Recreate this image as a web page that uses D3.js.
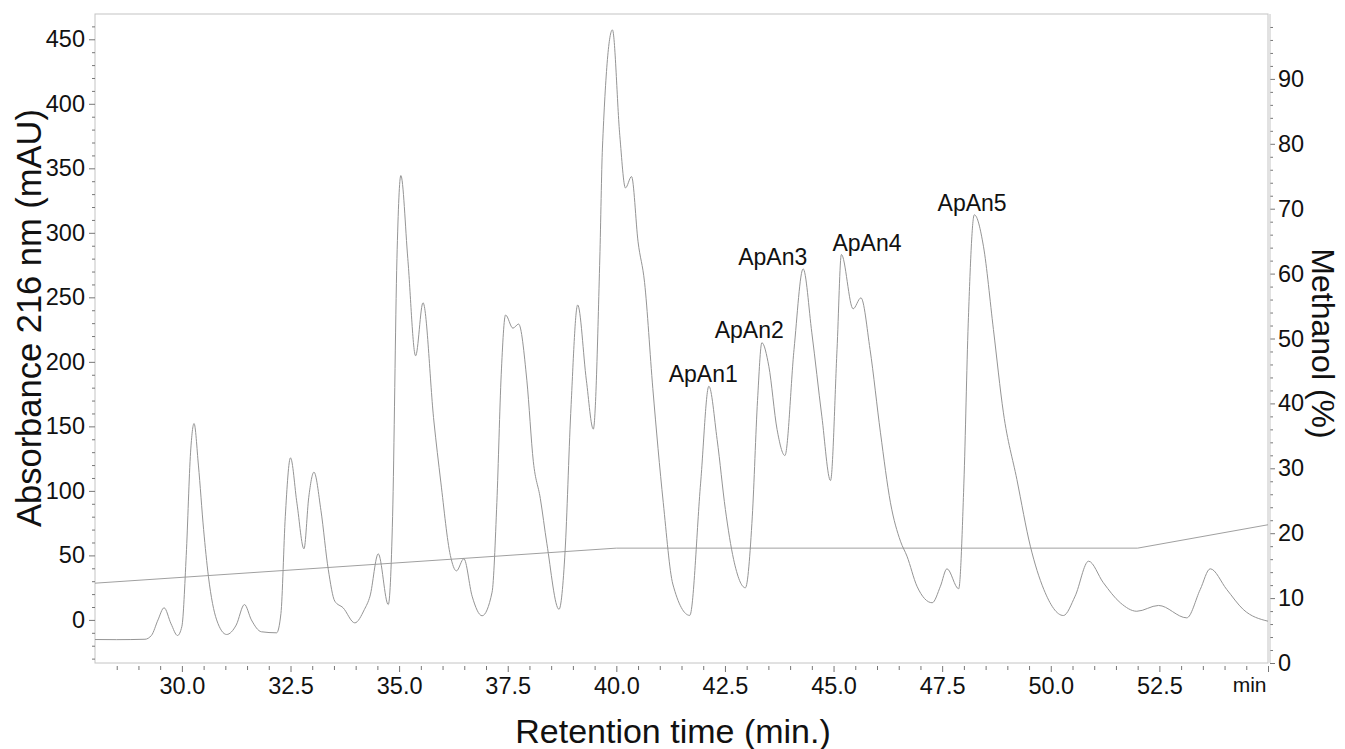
<!DOCTYPE html>
<html>
<head>
<meta charset="utf-8">
<script src="https://cdn.jsdelivr.net/npm/d3@7"></script>
<style>
  body { margin: 0; background: #fff; }
  svg text { font-family: "Liberation Sans", Arial, sans-serif; fill: #111; }
</style>
</head>
<body>
<div id="chart"></div>
<script>
// chromatogram trace (retention time in min, absorbance in mAU)
const times = [28.0, 28.5, 29.15, 29.3, 29.45, 29.59, 29.75, 29.9, 30.0, 30.1, 30.2, 30.28, 30.38, 30.5, 30.61, 30.8, 31.03, 31.25, 31.44, 31.6, 31.83, 32.18, 32.28, 32.38, 32.5, 32.65, 32.81, 32.92, 33.04, 33.2, 33.37, 33.52, 33.71, 33.98, 34.2, 34.33, 34.52, 34.75, 34.85, 34.95, 35.04, 35.2, 35.38, 35.55, 35.8, 35.96, 36.18, 36.32, 36.49, 36.68, 36.91, 37.14, 37.25, 37.35, 37.45, 37.62, 37.75, 37.94, 38.09, 38.25, 38.4, 38.68, 38.82, 38.95, 39.11, 39.31, 39.47, 39.62, 39.68, 39.91, 40.08, 40.21, 40.35, 40.5, 40.65, 40.84, 41.08, 41.3, 41.69, 41.94, 42.13, 42.32, 42.51, 42.7, 42.97, 43.13, 43.25, 43.35, 43.51, 43.7, 43.88, 44.09, 44.3, 44.5, 44.73, 44.93, 45.08, 45.18, 45.45, 45.63, 45.84, 46.08, 46.31, 46.54, 46.69, 46.92, 47.27, 47.46, 47.61, 47.88, 48.0, 48.1, 48.24, 48.45, 48.68, 48.91, 49.22, 49.53, 49.84, 50.29, 50.56, 50.87, 51.21, 51.6, 51.98, 52.48, 53.13, 53.44, 53.67, 54.05, 54.43, 55.0];
const absorbance = [-15.2, -15.3, -15.0, -12, 0, 9.4, -3, -12.1, -5, 50, 130, 152.2, 120, 70, 33.9, 0, -11.3, -4, 11.9, 0, -9.2, -10, 5, 80, 125.6, 90, 55.1, 95, 114.5, 85, 39, 14.5, 9.4, -2.3, 8, 18.4, 51.2, 11.9, 80, 280, 344.4, 280, 204.7, 245.8, 154.2, 106.8, 49.9, 38, 47.4, 18.4, 3.2, 21.5, 91, 190, 236.3, 226.1, 229.3, 185.8, 122.6, 94.2, 59.4, 8.2, 53, 160, 244.1, 185.8, 147.9, 280.5, 365.7, 457.3, 375.3, 334.8, 343.6, 293.1, 261.5, 179.4, 91, 27.8, 3.5, 106, 181.1, 139.8, 85.6, 46.8, 24.9, 80.4, 170, 214.8, 196.6, 147.6, 127.4, 209.6, 272.1, 222.5, 157.9, 108, 209.6, 283.2, 241.1, 249.6, 209.6, 145, 90.8, 61, 49.4, 26.1, 13.3, 26.1, 39.6, 24.1, 106, 230, 314, 289.6, 225.1, 160.5, 108.8, 57.1, 23.6, 3.4, 18.4, 45.5, 28.8, 13.3, 6.7, 11.2, 1.6, 23.6, 39.6, 23.6, 8.1, -1];

// methanol gradient (min, %)
const gradientTimes = [28, 40, 52, 55];
const methanolPct = [12.3, 17.7, 17.7, 21.3];

// peak annotations
const peakNames = ["ApAn1", "ApAn2", "ApAn3", "ApAn4", "ApAn5"];
const labelTimes = [42.0, 43.06, 43.6, 45.77, 48.19];
const labelValues = [181, 215, 272, 283, 314];

// tick labels
const xTicks = [30, 32.5, 35, 37.5, 40, 42.5, 45, 47.5, 50, 52.5];
const yLeftTicks = [0, 50, 100, 150, 200, 250, 300, 350, 400, 450];
const yRightTicks = [0, 10, 20, 30, 40, 50, 60, 70, 80, 90];

const width = 1345, height = 749;
const plot = { left: 95, right: 1268, top: 14, bottom: 663 };

const svg = d3.select("#chart").append("svg")
    .attr("width", width)
    .attr("height", height);

const x = d3.scaleLinear().domain([28, 55]).range([plot.left, plot.right]);
const yAbs = d3.scaleLinear().domain([-33.4, 469.6]).range([plot.bottom, plot.top]);
const yMeoh = d3.scaleLinear().domain([0, 100]).range([plot.bottom, plot.top]);

// frame
svg.append("rect")
    .attr("x", plot.left).attr("y", plot.top)
    .attr("width", plot.right - plot.left)
    .attr("height", plot.bottom - plot.top)
    .attr("fill", "none")
    .attr("stroke", "#c4c4c4")
    .attr("stroke-width", 1);

function styleAxis(g) {
    g.select(".domain").remove();
    g.selectAll(".tick line").attr("stroke", "#777");
    g.selectAll(".tick text").style("font-size", "23.5px");
}

// left axis
const minorLeft = d3.range(-30, 470, 10).filter(v => v % 50 !== 0);
svg.append("g")
    .attr("transform", `translate(${plot.left},0)`)
    .call(d3.axisLeft(yAbs).tickValues(minorLeft).tickSize(3).tickFormat(""))
    .call(styleAxis);
svg.append("g")
    .attr("transform", `translate(${plot.left},0)`)
    .call(d3.axisLeft(yAbs).tickValues(yLeftTicks).tickSize(6).tickPadding(4))
    .call(styleAxis);

// right axis
const minorRight = d3.range(2, 100, 2).filter(v => v % 10 !== 0);
svg.append("g")
    .attr("transform", `translate(${plot.right + 2},0)`)
    .call(d3.axisRight(yMeoh).tickValues(minorRight).tickSize(3).tickFormat(""))
    .call(styleAxis);
svg.append("g")
    .attr("transform", `translate(${plot.right + 2},0)`)
    .call(d3.axisRight(yMeoh).tickValues(yRightTicks).tickSize(5).tickPadding(3))
    .call(styleAxis);
svg.append("line")
    .attr("x1", plot.right + 2).attr("x2", plot.right + 2)
    .attr("y1", plot.top).attr("y2", plot.bottom)
    .attr("stroke", "#c4c4c4");

// bottom axis
const minorX = d3.range(28.5, 55, 0.5).filter(v => v % 2.5 !== 0);
svg.append("g")
    .attr("transform", `translate(0,${plot.bottom + 3})`)
    .call(d3.axisBottom(x).tickValues(minorX).tickSize(4).tickFormat(""))
    .call(styleAxis);
svg.append("g")
    .attr("transform", `translate(0,${plot.bottom + 3})`)
    .call(d3.axisBottom(x).tickValues(xTicks.concat([55])).tickSize(6).tickPadding(5)
        .tickFormat(d => d === 55 ? "min" : d3.format(".1f")(d)))
    .call(styleAxis)
    .call(g => g.selectAll(".tick text").filter(d => d === 55)
        .attr("text-anchor", "end").attr("dx", "-2").style("font-size", "21px"));

// methanol gradient line
const meohLine = d3.line()
    .x((d, i) => x(gradientTimes[i]))
    .y(d => yMeoh(d));
svg.append("path")
    .datum(methanolPct)
    .attr("d", meohLine)
    .attr("fill", "none")
    .attr("stroke", "#a0a0a0")
    .attr("stroke-width", 1);

// chromatogram trace
const trace = d3.line()
    .x((d, i) => x(times[i]))
    .y(d => yAbs(d))
    .curve(d3.curveMonotoneX);
svg.append("path")
    .datum(absorbance)
    .attr("d", trace)
    .attr("fill", "none")
    .attr("stroke", "#959595")
    .attr("stroke-width", 1);

// peak labels
svg.selectAll(".peak-label")
    .data(peakNames)
    .join("text")
    .attr("class", "peak-label")
    .attr("x", (d, i) => x(labelTimes[i]))
    .attr("y", (d, i) => yAbs(labelValues[i]) - 4)
    .attr("text-anchor", "middle")
    .style("font-size", "23px")
    .text(d => d);

// axis titles
svg.append("text")
    .attr("transform", `translate(673,${height - 6})`)
    .attr("text-anchor", "middle")
    .style("font-size", "34px")
    .text("Retention time (min.)");

svg.append("text")
    .attr("transform", `translate(41,318) rotate(-90)`)
    .attr("text-anchor", "middle")
    .style("font-size", "34.5px")
    .text("Absorbance 216 nm (mAU)");

svg.append("text")
    .attr("transform", `translate(1312,${(plot.top + plot.bottom) / 2 + 5}) rotate(90)`)
    .attr("text-anchor", "middle")
    .style("font-size", "32px")
    .text("Methanol (%)");
</script>
</body>
</html>
